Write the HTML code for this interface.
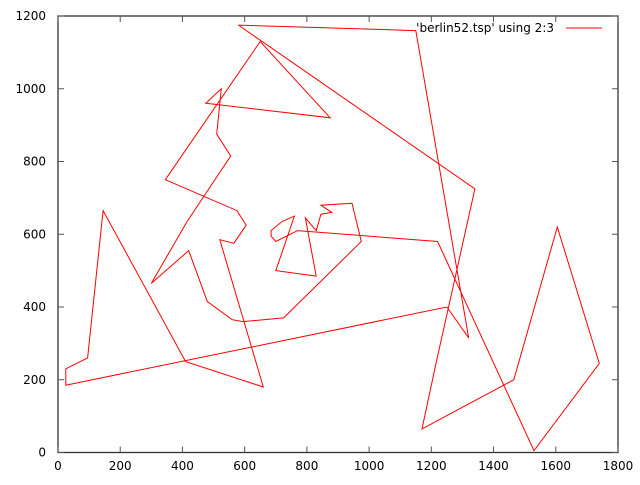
<!DOCTYPE html>
<html><head><meta charset="utf-8"><style>
body{margin:0;background:#fff;width:640px;height:480px;overflow:hidden}
svg text{font-family:"DejaVu Sans","Liberation Sans",sans-serif;font-size:12px;fill:#000}
</style></head><body>
<svg id="chart" width="640" height="480">
<rect x="58" y="16" width="560" height="436.5" fill="none" stroke="#333" stroke-width="1.3"/>
<g id="axes"></g>
<polyline id="tour" fill="none" stroke="#f00" stroke-width="1"/>
<text x="554" y="32" text-anchor="end">'berlin52.tsp' using 2:3</text>
<line x1="566" y1="28" x2="602" y2="28" stroke="#f00"/>
</svg>
<script>
const xTicks=[0,200,400,600,800,1000,1200,1400,1600,1800];
const yTicks=[0,200,400,600,800,1000,1200];
const tourX=[580,1150,1320,1250,25,25,95,145,410,660,520,565,605,575,345,650,875,475,525,510,555,415,300,420,480,560,595,725,975,945,845,880,845,835,830,795,830,700,760,720,685,685,700,770,1220,1530,1740,1605,1465,1170,1215,1340,580];
const tourY=[1175,1160,315,400,185,230,260,665,250,180,585,575,625,665,750,1130,920,960,1000,875,815,635,465,555,415,365,360,370,580,685,680,660,655,625,610,645,485,500,650,635,610,595,580,610,580,5,245,620,200,65,245,725,1175];
const X0=58,X1=618,Y0=452.5,Y1=16;
const sx=v=>X0+(v-0)/1800*(X1-X0);
const sy=v=>Y0-(v-0)/1200*(Y0-Y1);
const NS="http://www.w3.org/2000/svg";
const g=document.getElementById('axes');
function mk(t,a){const e=document.createElementNS(NS,t);for(const k in a)e.setAttribute(k,a[k]);g.appendChild(e);return e;}
xTicks.forEach(v=>{
 const x=sx(v);
 const t1=mk('line',{x1:x,y1:Y0,x2:x,y2:Y0-6,stroke:'#555'});
 
 
 const t2=mk('line',{x1:x,y1:Y1,x2:x,y2:Y1+6,stroke:'#555'});
 
 
 const l=mk('text',{x:x,y:470,'text-anchor':'middle'});l.textContent=v;
 
 
});
yTicks.forEach(v=>{
 const y=sy(v);
 const t1=mk('line',{x1:X0,y1:y,x2:X0+6,y2:y,stroke:'#555'});
 
 
 const t2=mk('line',{x1:X1,y1:y,x2:X1-6,y2:y,stroke:'#555'});
 
 
 const l=mk('text',{x:46,y:y+4,'text-anchor':'end'});l.textContent=v;
 
 
});
document.getElementById('tour').setAttribute('points',tourX.map((v,i)=>sx(v).toFixed(1)+','+sy(tourY[i]).toFixed(1)).join(' '));
</script>
</body></html>
